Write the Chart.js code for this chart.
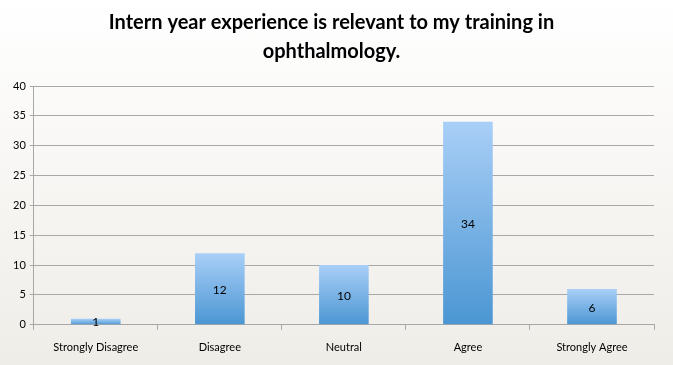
<!DOCTYPE html>
<html>
<head>
<meta charset="utf-8">
<script src="https://cdn.jsdelivr.net/npm/chart.js@4"></script>
<style>
  html, body { margin: 0; padding: 0; }
  body { width: 673px; height: 365px; background: linear-gradient(#ffffff, #efede8); }
  #wrap { width: 673px; height: 365px; }
</style>
</head>
<body>
<div id="wrap"><canvas id="myChart"></canvas></div>
<script>
var categories = ["Strongly Disagree", "Disagree", "Neutral", "Agree", "Strongly Agree"];
var counts = [1, 12, 10, 34, 6];
var yTicks = [0, 5, 10, 15, 20, 25, 30, 35, 40];
var titleLines = ["Intern year experience is relevant to my training in", "ophthalmology."];

Chart.defaults.font.family = "Lato, 'Open Sans', sans-serif";
Chart.defaults.color = "#000";

function barFill(ctx) {
  var chart = ctx.chart;
  if (!chart.chartArea) return "#7ab3e8";
  var v = ctx.raw;
  var top = chart.scales.y.getPixelForValue(v);
  var bottom = chart.scales.y.getPixelForValue(0);
  var g = chart.ctx.createLinearGradient(0, top, 0, bottom);
  g.addColorStop(0, "#a9cff7");
  g.addColorStop(1, "#4b96d3");
  return g;
}

// numbers in the middle of each bar
var valueLabels = {
  id: "valueLabels",
  afterDatasetsDraw: function(chart) {
    var c = chart.ctx;
    var meta = chart.getDatasetMeta(0);
    c.save();
    c.font = "12px Lato, sans-serif";
    c.fillStyle = "#000";
    c.textAlign = "center";
    c.textBaseline = "middle";
    meta.data.forEach(function(bar, i) {
      var y = (bar.y + bar.base) / 2;
      c.fillText(String(counts[i]), bar.x, y + 1);
    });
    c.restore();
  }
};

new Chart("myChart", {
  type: "bar",
  data: {
    labels: categories,
    datasets: [{
      data: counts,
      backgroundColor: barFill,
      categoryPercentage: 0.4,
      barPercentage: 1.0
    }]
  },
  options: {
    responsive: true,
    maintainAspectRatio: false,
    animation: false,
    layout: { padding: { left: 9, right: 19, top: 0, bottom: 0 } },
    plugins: {
      legend: { display: false },
      tooltip: { enabled: false },
      title: {
        display: true,
        text: titleLines,
        font: { size: 20, weight: "bold", lineHeight: 1.45 },
        color: "#000",
        padding: { top: 8, bottom: 20 }
      }
    },
    scales: {
      y: {
        min: 0,
        max: 40,
        afterBuildTicks: function(axis) {
          axis.ticks = yTicks.map(function(v) { return { value: v }; });
        },
        ticks: { font: { size: 11 }, padding: 4, color: "#000" },
        grid: { color: "#a8a8a8", tickLength: 4, lineWidth: 1 },
        border: { color: "#a8a8a8" }
      },
      x: {
        ticks: { font: { size: 11 }, padding: 11, color: "#000", maxRotation: 0 },
        grid: { drawOnChartArea: false, color: "#a8a8a8", tickLength: 5, offset: true },
        border: { color: "#a8a8a8" }
      }
    }
  },
  plugins: [valueLabels]
});
</script>
</body>
</html>
